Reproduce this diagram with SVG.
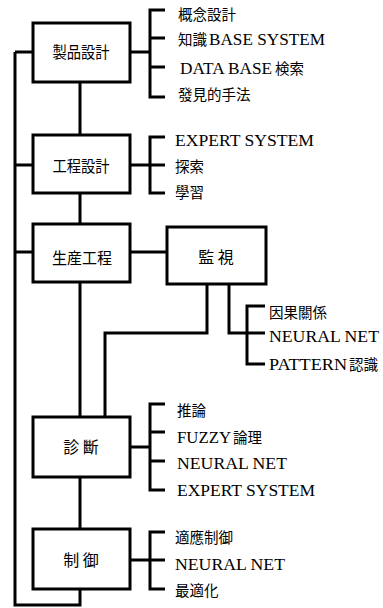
<svg xmlns="http://www.w3.org/2000/svg" width="383" height="608" viewBox="0 0 383 608">
<style>
.box{fill:#fff;stroke:#000;stroke-width:3}
.ln{fill:none;stroke:#000;stroke-width:3}
.lbl{font-family:"Noto Sans CJK JP","Noto Sans CJK SC",sans-serif;font-size:16px;fill:#000;text-anchor:middle}
.it{font-family:"Liberation Serif","Noto Sans CJK JP",serif;font-size:17.5px;fill:#000}
.cj{font-family:"Noto Sans CJK JP","Noto Sans CJK SC",sans-serif;font-size:14.5px;fill:#000}
</style>
<rect width="383" height="608" fill="#fff"/>
<g id="connectors">
<path class="ln" d="M15,52 V605 H80 V589"/>
<path class="ln" d="M15,52 H33 M15,165 H33 M15,252 H33"/>
<path class="ln" d="M80,82 V135 M80,193 V224 M80,282 V417 M80,477 V529"/>
<path class="ln" d="M130,252 H167"/>
<path class="ln" d="M207,284 V333 H105 V417"/>
<path class="ln" d="M229,284 V333 H247"/>
<path class="ln" d="M130,52 H150 M165,10 H150 V97 H165 M150,38 H165 M150,67 H165"/>
<path class="ln" d="M130,165 H150 M165,137 H150 V193 H165 M150,165 H165"/>
<path class="ln" d="M265,306 H247 V364 H265 M247,333 H265"/>
<path class="ln" d="M130,447 H150 M165,404 H150 V490 H165 M150,432 H165 M150,461 H165"/>
<path class="ln" d="M130,560 H150 M165,532 H150 V589 H165 M150,560 H165"/>
</g>
<g id="seihin"><rect class="box" x="33" y="23" width="97" height="59"/><text class="lbl" x="81" y="58" textLength="57" lengthAdjust="spacingAndGlyphs">製品設計</text></g>
<g id="koutei"><rect class="box" x="33" y="135" width="97" height="58"/><text class="lbl" x="81" y="172" textLength="57" lengthAdjust="spacingAndGlyphs">工程設計</text></g>
<g id="seisan"><rect class="box" x="33" y="224" width="97" height="58"/><text class="lbl" x="82" y="264" textLength="60" lengthAdjust="spacingAndGlyphs">生産工程</text></g>
<g id="kanshi"><rect class="box" x="167" y="227" width="99" height="57"/><text class="lbl" x="216" y="263">監 視</text></g>
<g id="shindan"><rect class="box" x="33" y="417" width="97" height="60"/><text class="lbl" x="81" y="453">診 斷</text></g>
<g id="seigyo"><rect class="box" x="33" y="529" width="97" height="60"/><text class="lbl" x="81" y="566">制 御</text></g>
<g id="items">
<text class="cj" x="178" y="20">概念設計</text>
<text class="cj" x="178" y="45">知識</text><text class="it" x="209" y="45" textLength="116" lengthAdjust="spacingAndGlyphs">BASE SYSTEM</text>
<text class="it" x="180" y="74" textLength="92" lengthAdjust="spacingAndGlyphs">DATA BASE</text><text class="cj" x="275" y="74">検索</text>
<text class="cj" x="178" y="100">發見的手法</text>
<text class="it" x="175" y="146" textLength="139" lengthAdjust="spacingAndGlyphs">EXPERT SYSTEM</text>
<text class="cj" x="175" y="172">探索</text>
<text class="cj" x="175" y="198">學習</text>
<text class="cj" x="269" y="318">因果關係</text>
<text class="it" x="269" y="342" textLength="110" lengthAdjust="spacingAndGlyphs">NEURAL NET</text>
<text class="it" x="269" y="370" textLength="78" lengthAdjust="spacingAndGlyphs">PATTERN</text><text class="cj" x="349" y="370">認識</text>
<text class="cj" x="177" y="416">推論</text>
<text class="it" x="177" y="443" textLength="54" lengthAdjust="spacingAndGlyphs">FUZZY</text><text class="cj" x="233" y="443">論理</text>
<text class="it" x="177" y="469" textLength="110" lengthAdjust="spacingAndGlyphs">NEURAL NET</text>
<text class="it" x="177" y="496" textLength="138" lengthAdjust="spacingAndGlyphs">EXPERT SYSTEM</text>
<text class="cj" x="175" y="543">適應制御</text>
<text class="it" x="175" y="570" textLength="110" lengthAdjust="spacingAndGlyphs">NEURAL NET</text>
<text class="cj" x="175" y="596">最適化</text>
</g>
</svg>
